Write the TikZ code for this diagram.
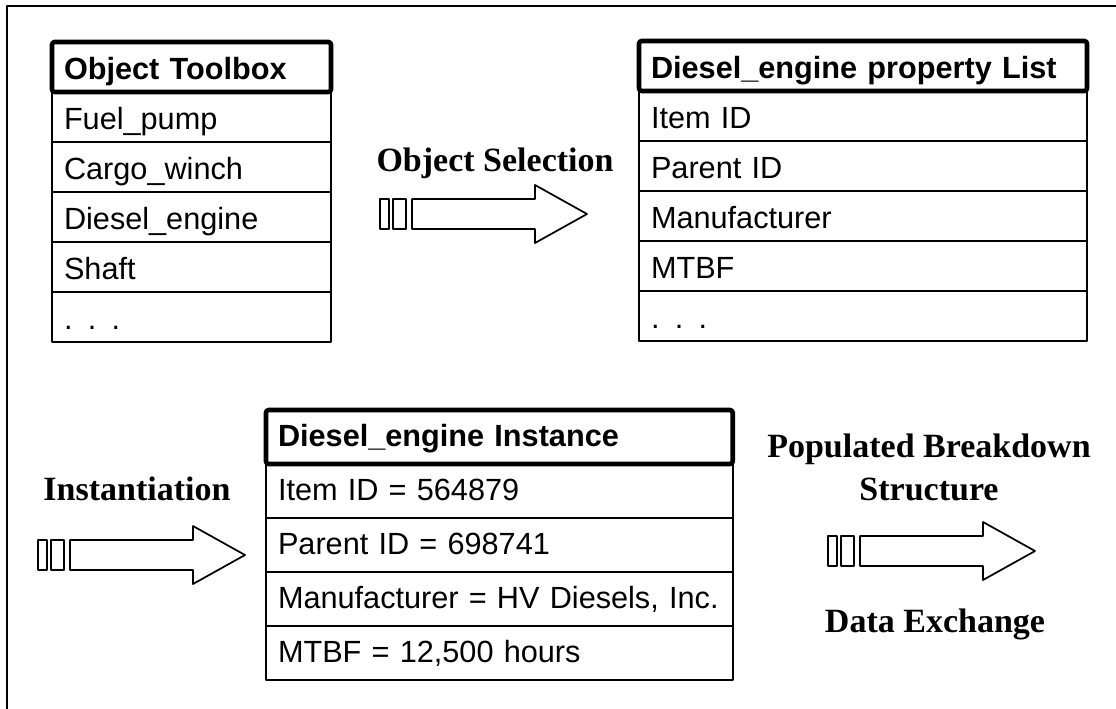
\documentclass[tikz,border=0pt]{standalone}
\usepackage{fontspec}
\setmainfont{Liberation Serif}
\setsansfont{Liberation Sans}
\usetikzlibrary{positioning}
\newcommand\cellfont{\sffamily\fontsize{23}{27}\selectfont}
\newcommand\titlefont{\fontsize{25.5}{32}\selectfont\bfseries}
\tikzset{
	bararrow/.pic={
		\draw[arrowline] (0,-15) rectangle (9,15);
		\draw[arrowline] (13,-15) rectangle (26,15);
		\draw[arrowline] (32,-15) -- (155,-15) -- (155,-29) -- (207,0) -- (155,29) -- (155,15) -- (32,15) -- cycle;
	}
}
\begin{document}
\begin{tikzpicture}[x=0.75pt, y=-0.75pt, line join=round, line cap=round,
		cell/.style={draw, line width=1.3pt, outer sep=0pt, inner xsep=9pt, inner ysep=0pt, align=left, text width=#1,
			minimum height=37.5pt, text height=21pt, text depth=2.5pt, font=\cellfont, anchor=north west},
		head/.style={cell=#1, line width=3.5pt, rounded corners=2pt, font=\cellfont\bfseries},
		tall/.style={minimum height=40.5pt, text height=17pt, text depth=3.5pt},
		arrowline/.style={line width=1.3pt},
		lbl/.style={font=\titlefont, inner sep=0pt, anchor=base}]
	\useasboundingbox (0,0) rectangle (1116,709);
	% frame
	\draw[line width=1.8pt] (7,720) -- (7,6) -- (1125,6);
	% toolbox
	\node[head=191.25pt] (tb0) at (52,42) {Object Toolbox};
	\node[cell=191.25pt, below=0pt of tb0] (tb1) {Fuel\_pump};
	\node[cell=191.25pt, below=0pt of tb1] (tb2) {Cargo\_winch};
	\node[cell=191.25pt, below=0pt of tb2] (tb3) {Diesel\_engine};
	\node[cell=191.25pt, below=0pt of tb3] (tb4) {Shaft};
	\node[cell=191.25pt, below=0pt of tb4] (tb5) {. . .};
	% property list
	\node[head=318pt] (pl0) at (639,41) {Diesel\_engine property List};
	\node[cell=318pt, below=0pt of pl0] (pl1) {Item ID};
	\node[cell=318pt, below=0pt of pl1] (pl2) {Parent ID};
	\node[cell=318pt, below=0pt of pl2] (pl3) {Manufacturer};
	\node[cell=318pt, below=0pt of pl3] (pl4) {MTBF};
	\node[cell=318pt, below=0pt of pl4] (pl5) {. . .};
	% instance
	\node[head=332pt, tall] (in0) at (266,410) {Diesel\_engine Instance};
	\node[cell=332pt, tall, below=0pt of in0] (in1) {Item ID = 564879};
	\node[cell=332pt, tall, below=0pt of in1] (in2) {Parent ID = 698741};
	\node[cell=332pt, tall, below=0pt of in2] (in3) {Manufacturer = HV Diesels, Inc.};
	\node[cell=332pt, tall, below=0pt of in3] (in4) {MTBF = 12,500 hours};
	% arrows
	\pic (selarrow) at (380,214) {bararrow};
	\pic (instarrow) at (38,555) {bararrow};
	\pic (exarrow) at (828,551) {bararrow};
	\node[lbl] (select) at (495,172) {Object Selection};
	\node[lbl] (inst) at (137,500) {Instantiation};
	\node[lbl, align=center] (pbs) at (929,500) {Populated Breakdown\\Structure};
	\node[lbl] (exch) at (935,632) {Data Exchange};
\end{tikzpicture}
\end{document}
